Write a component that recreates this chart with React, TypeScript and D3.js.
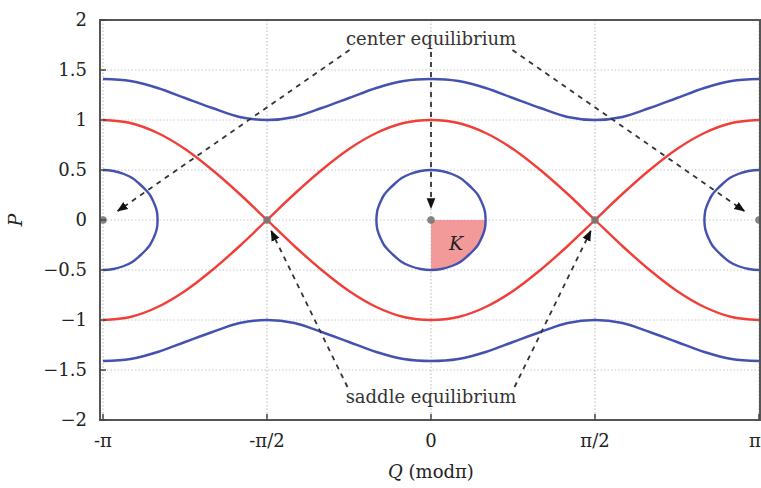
import * as d3 from 'd3';

const PI = Math.PI;

// Q samples in steps of pi/12 (from -pi to pi)
const qSteps = [-12, -11, -10, -9, -8, -7, -6, -5, -4, -3, -2, -1, 0, 1, 2, 3, 4, 5, 6, 7, 8, 9, 10, 11, 12];

// separatrices (red)
const sepDown = [1, 0.97, 0.87, 0.71, 0.5, 0.26, 0, -0.26, -0.5, -0.71, -0.87, -0.97, -1, -0.97, -0.87, -0.71, -0.5, -0.26, 0, 0.26, 0.5, 0.71, 0.87, 0.97, 1];
const sepUp = [-1, -0.97, -0.87, -0.71, -0.5, -0.26, 0, 0.26, 0.5, 0.71, 0.87, 0.97, 1, 0.97, 0.87, 0.71, 0.5, 0.26, 0, -0.26, -0.5, -0.71, -0.87, -0.97, -1];

// rotating orbits (blue)
const outerTop = [1.41, 1.39, 1.32, 1.22, 1.12, 1.03, 1.0, 1.03, 1.12, 1.22, 1.32, 1.39, 1.41, 1.39, 1.32, 1.22, 1.12, 1.03, 1.0, 1.03, 1.12, 1.22, 1.32, 1.39, 1.41];
const outerBottom = [-1.41, -1.39, -1.32, -1.22, -1.12, -1.03, -1.0, -1.03, -1.12, -1.22, -1.32, -1.39, -1.41, -1.39, -1.32, -1.22, -1.12, -1.03, -1.0, -1.03, -1.12, -1.22, -1.32, -1.39, -1.41];

// libration orbit around a center (closed loop, offsets from the center)
const orbitQ = [0, 0.1, 0.2, 0.28, 0.35, 0.41, 0.45, 0.48, 0.5, 0.515, 0.523, 0.515, 0.5, 0.48, 0.45, 0.41, 0.35, 0.28, 0.2, 0.1,
  0, -0.1, -0.2, -0.28, -0.35, -0.41, -0.45, -0.48, -0.5, -0.515, -0.523, -0.515, -0.5, -0.48, -0.45, -0.41, -0.35, -0.28, -0.2, -0.1];
const orbitP = [0.5, 0.49, 0.46, 0.42, 0.36, 0.3, 0.25, 0.19, 0.14, 0.09, 0, -0.09, -0.14, -0.19, -0.25, -0.3, -0.36, -0.42, -0.46, -0.49,
  -0.5, -0.49, -0.46, -0.42, -0.36, -0.3, -0.25, -0.19, -0.14, -0.09, 0, 0.09, 0.14, 0.19, 0.25, 0.3, 0.36, 0.42, 0.46, 0.49];

const centers = [-PI, 0, PI];
const saddles = [-PI / 2, PI / 2];

const xTicks = [-PI, -PI / 2, 0, PI / 2, PI];
const xTickLabels = ['-π', '-π/2', '0', 'π/2', 'π'];
const yTicks = [-2, -1.5, -1, -0.5, 0, 0.5, 1, 1.5, 2];
const yTickLabels = ['−2', '−1.5', '−1', '−0.5', '0', '0.5', '1', '1.5', '2'];

// annotation arrows: [fromQ, fromP, toQ, toP]
const centerArrows = [
  [-0.78, 1.7, -3.0, 0.09],
  [0, 1.68, 0, 0.12],
  [0.78, 1.7, 3.0, 0.09],
];
const saddleArrows = [
  [-0.8, -1.67, -1.53, -0.11],
  [0.8, -1.67, 1.53, -0.11],
];

const width = 761;
const height = 488;
const frame = { left: 100, right: 760, top: 20, bottom: 420 };

const blue = '#4352b0';
const red = '#f03f38';
const font = 'DejaVu Serif';

function App() {
  const x = d3.scaleLinear().domain([-PI, PI]).range([103, 759]);
  const y = d3.scaleLinear().domain([-2, 2]).range([frame.bottom, frame.top]);

  const line = d3.line<[number, number]>()
    .x(d => x(d[0]))
    .y(d => y(d[1]))
    .curve(d3.curveCatmullRom);
  const loop = d3.line<[number, number]>()
    .x(d => x(d[0]))
    .y(d => y(d[1]))
    .curve(d3.curveCatmullRomClosed);

  const qs = qSteps.map(k => (k * PI) / 12);
  const curve = (vals: number[]) => line(qs.map((q, i) => [q, vals[i]] as [number, number])) || '';

  const orbit = orbitQ.map((q, i) => [q, orbitP[i]] as [number, number]);
  const kArc = orbit.filter(d => d[0] >= 0 && d[1] <= 0);
  const kPath = (line(kArc) || '') + `L${x(0)},${y(0)}Z`;

  return (
    <svg width={width} height={height} style={{ position: 'absolute', left: 0, top: 0, background: '#fff' }}>
      <defs>
        <clipPath id="plot">
          <rect x={x(-PI)} y={frame.top} width={x(PI) - x(-PI)} height={frame.bottom - frame.top} />
        </clipPath>
        <marker id="arr" viewBox="0 0 10 10" refX="9" refY="5" markerWidth="6" markerHeight="6" orient="auto">
          <path d="M0,1 L10,5 L0,9 Z" fill="#111" />
        </marker>
      </defs>

      {/* grid */}
      {yTicks.slice(1, -1).map(t => (
        <line key={'gy' + t} x1={frame.left} x2={frame.right} y1={y(t)} y2={y(t)}
          stroke="#c8c8c8" strokeWidth={1} strokeDasharray="1.5 2" />
      ))}
      {xTicks.map(t => (
        <line key={'gx' + t} x1={x(t)} x2={x(t)} y1={frame.top} y2={frame.bottom}
          stroke="#b8b8b8" strokeWidth={1} strokeDasharray="1.5 2" />
      ))}

      {/* K region */}
      <path d={kPath} fill="#f29a9a" />

      <g clipPath="url(#plot)" fill="none" strokeWidth={2.4} strokeLinejoin="round">
        <path d={curve(outerTop)} stroke={blue} />
        <path d={curve(outerBottom)} stroke={blue} />
        {centers.map(c => (
          <path key={'o' + c} d={loop(orbit.map(d => [d[0] + c, d[1]] as [number, number])) || ''} stroke={blue} />
        ))}
        <path d={curve(sepDown)} stroke={red} />
        <path d={curve(sepUp)} stroke={red} />
      </g>

      {/* equilibria */}
      {centers.concat(saddles).map(c => (
        <circle key={'e' + c} cx={x(c)} cy={y(0)} r={3.8} fill="#777" opacity={0.9} />
      ))}

      {/* arrows */}
      {centerArrows.concat(saddleArrows).map((a, i) => (
        <line key={'a' + i} x1={x(a[0])} y1={y(a[1])} x2={x(a[2])} y2={y(a[3])}
          stroke="#333" strokeWidth={1.8} strokeDasharray="5 5" markerEnd="url(#arr)" />
      ))}

      <text x={x(0)} y={y(1.75)} textAnchor="middle" fontFamily={font} fontSize={18} fill="#333">center equilibrium</text>
      <text x={x(0)} y={y(-1.83)} textAnchor="middle" fontFamily={font} fontSize={18} fill="#333">saddle equilibrium</text>
      <text x={x(0.24)} y={y(-0.3)} textAnchor="middle" fontFamily={font} fontSize={19} fontStyle="italic" fill="#222">K</text>

      {/* frame */}
      <rect x={frame.left} y={frame.top} width={frame.right - frame.left} height={frame.bottom - frame.top}
        fill="none" stroke="#555" strokeWidth={2} />

      {/* ticks */}
      {yTicks.map((t, i) => (
        <g key={'yt' + t}>
          <line x1={frame.left} x2={frame.left + 6} y1={y(t)} y2={y(t)} stroke="#444" strokeWidth={1.5} />
          <text x={87} y={y(t)} dy="0.36em" textAnchor="end" fontFamily={font} fontSize={18} fill="#222">{yTickLabels[i]}</text>
        </g>
      ))}
      {xTicks.map((t, i) => (
        <g key={'xt' + t}>
          <line x1={x(t)} x2={x(t)} y1={frame.bottom} y2={frame.bottom - 6} stroke="#444" strokeWidth={1.5} />
          <text x={i === xTicks.length - 1 ? x(t) - 4 : x(t)} y={447} textAnchor="middle" fontFamily={font} fontSize={18} fill="#222">{xTickLabels[i]}</text>
        </g>
      ))}

      {/* axis titles */}
      <text x={x(0)} y={478} textAnchor="middle" fontFamily={font} fontSize={18} fill="#222">
        <tspan fontStyle="italic">Q</tspan> (modπ)
      </text>
      <text transform={`translate(22, ${y(0)}) rotate(-90)`} textAnchor="middle" fontFamily={font} fontSize={19} fontStyle="italic" fill="#222">P</text>
    </svg>
  );
}

export default App;
